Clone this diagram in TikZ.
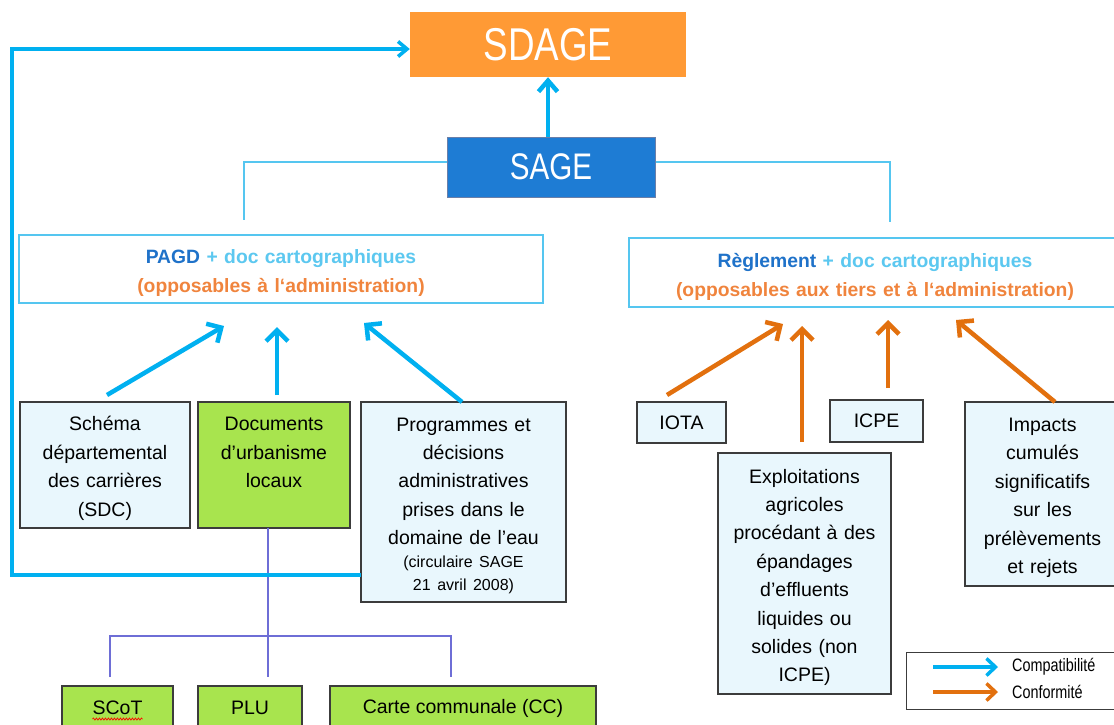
\documentclass[tikz,border=0pt]{standalone}
\usepackage{fontspec}
\setmainfont{Liberation Sans}
\newfontfamily\narrowsf[FakeStretch=0.8]{Liberation Sans}
\usetikzlibrary{arrows.meta,decorations.pathmorphing}
\definecolor{sdageor}{HTML}{FF9A35}
\definecolor{sageblue}{HTML}{1E7CD4}
\definecolor{sageedge}{HTML}{6B7FA8}
\definecolor{arrblue}{HTML}{00B0F0}
\definecolor{arrorange}{HTML}{E2700E}
\definecolor{thinblue}{HTML}{55C6F0}
\definecolor{lightfill}{HTML}{E9F7FD}
\definecolor{greenfill}{HTML}{A8E44E}
\definecolor{boxedge}{HTML}{3C3C3C}
\definecolor{darkbluetxt}{HTML}{1F72C9}
\definecolor{lightbluetxt}{HTML}{5CC8F0}
\definecolor{orangetxt}{HTML}{F0843D}
\definecolor{busviolet}{HTML}{6E6ED6}
\newcommand{\bodyfnt}{\fontsize{19.5}{28.4}\selectfont}
\newcommand{\smallfnt}{\fontsize{16}{23}\selectfont}
\newcommand{\boldfnt}{\bfseries\fontsize{19.3}{29}\selectfont}
\newcommand{\legfnt}{\narrowsf\fontsize{18}{20}\selectfont}
\newcommand{\topgap}[1]{\rule{0pt}{#1}}
\begin{document}
\begin{tikzpicture}[x=1pt,y=-1pt,
  box/.style={draw=boxedge, line width=1.3pt, inner sep=0pt, align=center, font=\bodyfnt},
  lbox/.style={box, fill=lightfill},
  gbox/.style={box, fill=greenfill},
  mainbox/.style={draw=thinblue, line width=1.5pt, fill=white, inner sep=0pt, align=center, font=\boldfnt},
  compat/.style={draw=arrblue, line width=4.5pt, -{Straight Barb[length=11pt,width=22pt]}},
  conform/.style={draw=arrorange, line width=4.5pt, -{Straight Barb[length=11pt,width=22pt]}},
  thinline/.style={draw=thinblue, line width=1.5pt},
  busline/.style={draw=busviolet, line width=1.2pt},
  legarrow/.style={line width=3.5pt, -{Straight Barb[length=9pt,width=17pt]}},
]
\useasboundingbox (0,0) rectangle (1114,724);
\fill[white] (0,0) rectangle (1114,724);
\begin{scope}
\clip (0,0) rectangle (1114,724);

% top boxes
\node[fill=sdageor, minimum width=276pt, minimum height=65pt, inner sep=0pt, text=white,
      font=\narrowsf\fontsize{46}{50}\selectfont] (sdage) at (548,44.5) {SDAGE};
\node[fill=sageblue, draw=sageedge, line width=1pt, minimum width=208pt, minimum height=60pt, inner sep=0pt, text=white,
      font=\narrowsf\fontsize{37}{40}\selectfont] (sage) at (551,167) {SAGE};

% main boxes
\node[mainbox, minimum width=524pt, minimum height=68pt, text width=510pt] (pagd) at (281,269)
  {\topgap{22pt}\textcolor{darkbluetxt}{PAGD} \textcolor{lightbluetxt}{+ doc cartographiques}\\
   \textcolor{orangetxt}{(opposables à l‘administration)}};
\node[mainbox, minimum width=492pt, minimum height=69pt, text width=480pt] (regl) at (875,272.5)
  {\topgap{22pt}\textcolor{darkbluetxt}{Règlement} \textcolor{lightbluetxt}{+ doc cartographiques}\\
   \textcolor{orangetxt}{(opposables aux tiers et à l‘administration)}};

% left boxes
\node[lbox, minimum width=170pt, minimum height=126pt, text width=160pt] (schema) at (105,465)
  {\topgap{21pt}Schéma\\départemental\\des carrières\\(SDC)};
\node[gbox, minimum width=152pt, minimum height=126pt, text width=145pt] (docs) at (274,465)
  {\topgap{21pt}Documents\\d’urbanisme\\locaux\\\phantom{(SDC)}};
\node[lbox, minimum width=205pt, minimum height=200pt, text width=195pt] (prog) at (463.5,502)
  {\topgap{21pt}Programmes et\\décisions\\administratives\\prises dans le\\domaine de l’eau\par
   \smallfnt (circulaire SAGE\\21 avril 2008)\par};

% bottom boxes
\node[gbox, minimum width=111pt, minimum height=44pt] (scot) at (117.5,708) {SCoT};
\node[gbox, minimum width=104pt, minimum height=44pt] (plu) at (250,708) {PLU};
\node[gbox, minimum width=266pt, minimum height=44pt] (cc) at (463,708) {Carte communale (CC)};
\draw[red, line width=0.7pt, decorate, decoration={snake, amplitude=1pt, segment length=3pt}]
  ([xshift=-25pt,yshift=-11pt]scot.center) -- ([xshift=25pt,yshift=-11pt]scot.center);

% right boxes
\node[lbox, minimum width=89pt, minimum height=41pt] (iota) at (681.5,422.5) {IOTA};
\node[lbox, minimum width=93pt, minimum height=42pt] (icpe) at (876.5,421) {ICPE};
\node[lbox, minimum width=173pt, minimum height=241pt, text width=165pt] (expl) at (804.5,573.5)
  {\topgap{22pt}Exploitations\\agricoles\\procédant à des\\épandages\\d’effluents\\liquides ou\\solides (non\\ICPE)};
\node[lbox, minimum width=155pt, minimum height=184pt, text width=150pt] (impacts) at (1042.5,494)
  {\topgap{21pt}Impacts\\cumulés\\significatifs\\sur les\\prélèvements\\et rejets};

% legend
\node[draw=boxedge, line width=1.3pt, fill=white, minimum width=220pt, minimum height=57pt, anchor=north west, inner sep=0pt] (legend) at (906,652) {};
\node[anchor=west, font=\legfnt, inner sep=0pt] (lcompat) at (1012,667) {Compatibilité};
\node[anchor=west, font=\legfnt, inner sep=0pt] (lconf) at (1012,692) {Conformité};
\coordinate (lb0) at (933,667);
\coordinate (lo0) at (933,692);
\draw[legarrow, arrblue] (lb0) -- ([xshift=-14pt]lcompat.west);
\draw[legarrow, arrorange] (lo0) -- ([xshift=-14pt]lconf.west);

% thin tree from SAGE
\coordinate (tl) at (244,162);
\coordinate (tlend) at (244,220);
\coordinate (tr) at (890,162);
\coordinate (trend) at (890,222);
\draw[thinline] ([yshift=5pt]sage.west) -- (tl) -- (tlend);
\draw[thinline] ([yshift=5pt]sage.east) -- (tr) -- (trend);

% bus under documents
\coordinate (bustop) at (268,528);
\coordinate (busmid) at (268,636);
\coordinate (busl) at (110,636);
\coordinate (busr) at (451,636);
\coordinate (busmidend) at (268,677);
\coordinate (buslend) at (110,677);
\coordinate (busrend) at (451,677);
\draw[busline] (bustop) -- (busmidend);
\draw[busline] (buslend) -- (busl) -- (busr) -- (busrend);

% feedback line to SDAGE
\coordinate (fb) at (361,575);
\coordinate (fbl) at (12,575);
\coordinate (fbt) at (12,49);
\draw[draw=arrblue, line width=3.5pt, -{Straight Barb[length=9pt,width=15pt]}]
  (fb) -- (fbl) -- (fbt) -- ([yshift=-4.5pt]sdage.west);

% SAGE -> SDAGE
\draw[draw=arrblue, line width=4.5pt, -{Straight Barb[length=11pt,width=19pt]}]
  (sdage.south |- sage.north) -- (sdage.south);

% compatibility arrows into PAGD
\coordinate (c1s) at (107,395); \coordinate (c1e) at (224,326);
\coordinate (c2s) at (277,395); \coordinate (c2e) at (277,327);
\coordinate (c3s) at (462,402); \coordinate (c3e) at (364,323);
\draw[compat] (c1s) -- (c1e);
\draw[compat] (c2s) -- (c2e);
\draw[compat] (c3s) -- (c3e);

% conformity arrows into Reglement
\coordinate (o1s) at (667,395); \coordinate (o1e) at (783,324);
\coordinate (o2s) at (802,442); \coordinate (o2e) at (802,326);
\coordinate (o3s) at (888,388); \coordinate (o3e) at (888,320);
\coordinate (o4s) at (1055,402); \coordinate (o4e) at (956,320);
\draw[conform] (o1s) -- (o1e);
\draw[conform] (o2s) -- (o2e);
\draw[conform] (o3s) -- (o3e);
\draw[conform] (o4s) -- (o4e);
\end{scope}
\end{tikzpicture}
\end{document}
